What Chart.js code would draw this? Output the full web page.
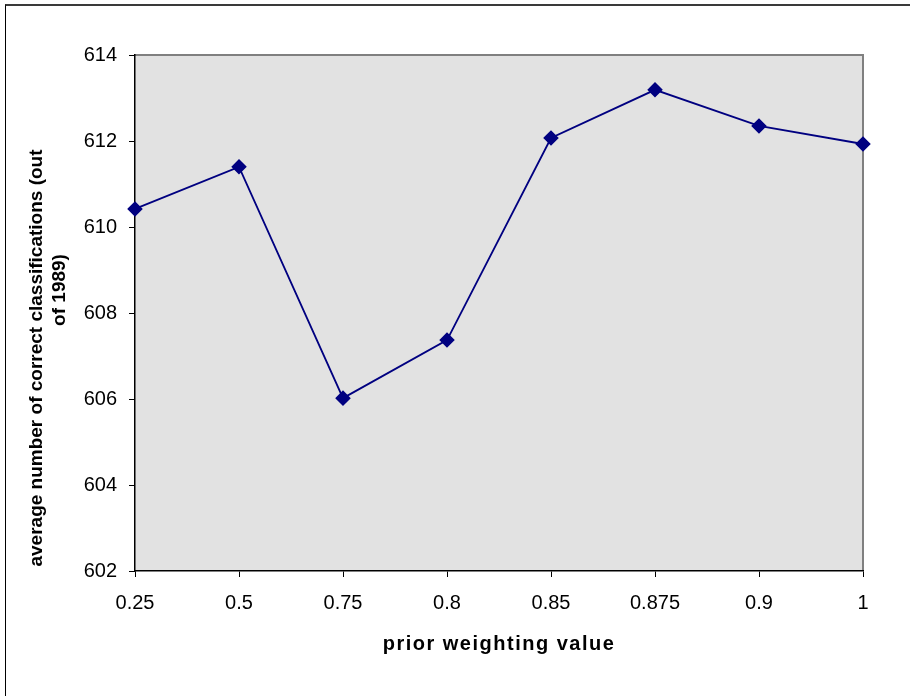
<!DOCTYPE html>
<html>
<head>
<meta charset="utf-8">
<script src="https://cdn.jsdelivr.net/npm/chart.js@4"></script>
<style>
  html, body { margin: 0; padding: 0; background: #fff; overflow: hidden; }
  #frame { position: absolute; left: 5px; top: 4px; width: 1000px; height: 800px;
           border-top: 2px solid #3a3a3a; border-left: 1px solid #000; }
  #myChart { position: absolute; left: 0; top: 0; }
</style>
</head>
<body>
<div id="frame"></div>
<canvas id="myChart" width="910" height="696"></canvas>
<script>
// 読み取った値
const weights = ['0.25', '0.5', '0.75', '0.8', '0.85', '0.875', '0.9', '1'];
const correct = [610.42, 611.40, 606.02, 607.37, 612.07, 613.19, 612.35, 611.93];
const yTicks = [602, 604, 606, 608, 610, 612, 614];
const yTitle = ['average number of correct classifications (out', 'of 1989)'];

// 灰色の背景と枠
const plotBg = {
  id: 'plotBg',
  beforeDraw(chart) {
    const { ctx, chartArea: a } = chart;
    ctx.save();
    ctx.fillStyle = '#e2e2e2';
    ctx.fillRect(a.left, a.top, a.right - a.left, a.bottom - a.top);
    ctx.strokeStyle = '#808080';
    ctx.lineWidth = 2;
    ctx.beginPath();
    ctx.moveTo(a.left, a.top);
    ctx.lineTo(a.right, a.top);
    ctx.lineTo(a.right, a.bottom);
    ctx.stroke();
    ctx.restore();
  }
};

// 縦軸タイトル（2行目の位置がずれているので手で描く）
const yTitlePlugin = {
  id: 'yTitlePlugin',
  afterDraw(chart) {
    const ctx = chart.ctx;
    const pos = [[37, 358], [60, 290]];
    ctx.save();
    ctx.fillStyle = '#000';
    ctx.font = 'bold 19px "Liberation Sans"';
    ctx.textAlign = 'center';
    ctx.textBaseline = 'middle';
    yTitle.forEach((t, i) => {
      ctx.save();
      ctx.translate(pos[i][0], pos[i][1]);
      ctx.rotate(-Math.PI / 2);
      ctx.fillText(t, 0, 0);
      ctx.restore();
    });
    ctx.restore();
  }
};

new Chart(document.getElementById('myChart'), {
  type: 'line',
  data: {
    labels: weights,
    datasets: [{
      data: correct,
      borderColor: '#000080',
      backgroundColor: '#000080',
      borderWidth: 1.8,
      pointStyle: 'rectRot',
      pointRadius: 6.5,
      pointHoverRadius: 6.5,
      tension: 0,
      clip: false
    }]
  },
  options: {
    responsive: false,
    animation: false,
    layout: { padding: { top: 55, right: 47, left: 0, bottom: 0 } },
    plugins: { legend: { display: false }, tooltip: { enabled: false } },
    scales: {
      x: {
        offset: false,
        grid: { drawOnChartArea: false, drawTicks: true, tickLength: 6, color: '#000' },
        border: { color: '#000', width: 1.5 },
        ticks: { autoSkip: false, maxRotation: 0, padding: 14, color: '#000',
                 font: { family: 'Liberation Sans', size: 20 } },
        title: { display: true, text: 'prior weighting value', color: '#000',
                 padding: { top: 0, bottom: 38 },
                 font: { family: 'Liberation Sans', size: 20, weight: 'bold', lineHeight: 1.35 } },
        afterFit(s) {
          s.height = 125;
          // 字間を少し広げる
          if (!s._spaced) {
            const orig = s.drawTitle;
            s.drawTitle = function () {
              this.ctx.letterSpacing = '1.5px';
              orig.call(this);
              this.ctx.letterSpacing = '0px';
            };
            s._spaced = true;
          }
        }
      },
      y: {
        min: 602, max: 614,
        afterBuildTicks(s) { s.ticks = yTicks.map(v => ({ value: v })); },
        grid: { drawOnChartArea: false, drawTicks: true, tickLength: 6, color: '#000' },
        border: { color: '#000', width: 1.5 },
        ticks: { padding: 12, color: '#000',
                 font: { family: 'Liberation Sans', size: 20 } },
        title: { display: false },
        afterFit(s) { s.width = 135; }
      }
    }
  },
  plugins: [plotBg, yTitlePlugin]
});
</script>
</body>
</html>
